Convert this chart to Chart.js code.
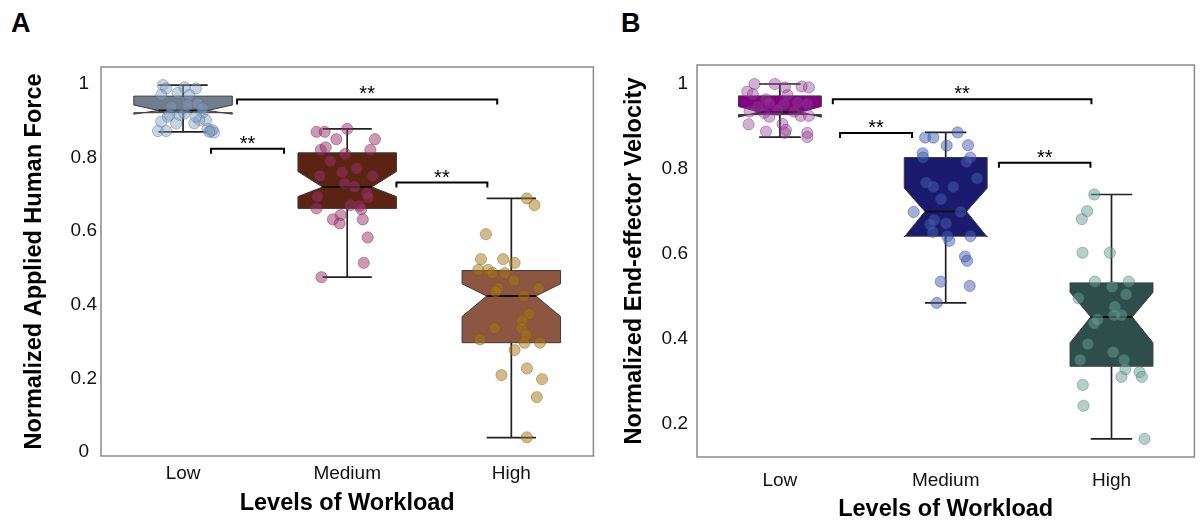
<!DOCTYPE html>
<html>
<head>
<meta charset="utf-8">
<script src="https://cdn.jsdelivr.net/npm/chart.js@4.4.0/dist/chart.umd.min.js"></script>
<style>
  body { margin: 0; background: #fff; width: 1201px; height: 524px; overflow: hidden; position: relative;
         font-family: "Liberation Sans", Arial, sans-serif; }
  .tag { position: absolute; top: 10px; font-weight: bold; font-size: 27px; line-height: 1; color: #000; }
  #chartA { position: absolute; left: 0; top: 0; }
  #chartB { position: absolute; left: 600px; top: 0; }
</style>
</head>
<body>
<div class="tag" style="left:11px">A</div>
<div class="tag" style="left:621px">B</div>
<canvas id="chartA" width="600" height="524"></canvas>
<canvas id="chartB" width="601" height="524"></canvas>
<script>
const levels = ['Low', 'Medium', 'High'];

// ---- panel A: normalized applied human force ----
const forceTicks = [0, 0.2, 0.4, 0.6, 0.8, 1];
const forceWhiskerLow  = [0.870, 0.475, 0.039];
const forceQ1          = [0.922, 0.662, 0.297];
const forceNotchLow    = [0.918, 0.694, 0.368];
const forceMedian      = [0.928, 0.720, 0.424];
const forceNotchHigh   = [0.943, 0.762, 0.457];
const forceQ3          = [0.967, 0.813, 0.493];
const forceWhiskerHigh = [0.997, 0.878, 0.689];

const forceLow = [0.997, 0.988, 0.976, 0.991, 0.988, 0.970, 0.970, 0.916, 0.916, 0.943, 0.947, 0.922, 0.902, 0.902, 0.893,
                  0.898, 0.872, 0.872, 0.893, 0.878, 0.872, 0.868, 0.875, 0.870, 0.911, 0.920, 0.911, 0.938, 0.934];
const forceLowJitter = [-0.123, -0.103, -0.032, 0.008, 0.078, 0.038, -0.133, -0.082, -0.022, 0.028, 0.089, 0.119, 0.139, 0.099, 0.068,
                        -0.133, -0.153, -0.103, -0.042, 0.149, 0.169, 0.189, 0.179, 0.159, -0.093, 0.008, 0.078, -0.072, 0.119];
const forceMed = [0.870, 0.870, 0.878, 0.850, 0.850, 0.821, 0.828, 0.810, 0.821, 0.791, 0.771, 0.760, 0.750, 0.750, 0.730,
                  0.721, 0.694, 0.703, 0.692, 0.662, 0.671, 0.669, 0.660, 0.644, 0.632, 0.621, 0.632, 0.583, 0.514, 0.475];
const forceMedJitter = [-0.187, -0.137, 0.000, -0.066, 0.169, -0.161, -0.131, -0.012, 0.141, -0.103, 0.058, -0.030, -0.167, 0.155, -0.016,
                        0.044, -0.181, 0.121, 0.129, -0.187, 0.020, 0.074, 0.085, -0.040, -0.087, -0.046, 0.095, 0.125, 0.101, -0.157];
const forceHigh = [0.689, 0.671, 0.592, 0.524, 0.524, 0.514, 0.495, 0.495, 0.486, 0.486, 0.466, 0.445, 0.436, 0.445, 0.424,
                   0.375, 0.357, 0.336, 0.336, 0.318, 0.297, 0.306, 0.297, 0.277, 0.227, 0.209, 0.198, 0.149, 0.040];
const forceHighJitter = [0.095, 0.141, -0.155, -0.185, -0.050, 0.020, -0.201, -0.141, -0.115, -0.040, 0.016, -0.080, -0.095, 0.167, 0.076,
                         0.107, 0.066, 0.062, -0.101, 0.091, 0.080, -0.191, 0.175, 0.020, 0.095, -0.060, 0.187, 0.155, 0.095];

// ---- panel B: normalized end-effector velocity ----
const velTicks = [0.2, 0.4, 0.6, 0.8, 1];
const velWhiskerLow  = [0.875, 0.485, 0.165];
const velQ1          = [0.928, 0.642, 0.336];
const velNotchLow    = [0.922, 0.640, 0.391];
const velMedian      = [0.934, 0.700, 0.452];
const velNotchHigh   = [0.947, 0.755, 0.510];
const velQ3          = [0.972, 0.827, 0.532];
const velWhiskerHigh = [1.000, 0.886, 0.740];

const velLow = [1.000, 1.000, 0.992, 0.994, 0.992, 0.982, 0.976, 0.964, 0.974, 0.947, 0.955, 0.953, 0.956, 0.953,
                0.935, 0.932, 0.923, 0.939, 0.935, 0.925, 0.925, 0.905, 0.906, 0.888, 0.885, 0.885, 0.875, 0.892];
const velLowJitter = [-0.153, -0.030, 0.030, 0.131, 0.175, -0.197, -0.163, -0.084, 0.046, -0.133, -0.064, 0.026, 0.106, 0.165,
                      -0.183, -0.094, -0.064, -0.014, 0.086, 0.125, 0.175, -0.189, 0.016, -0.084, 0.030, 0.165, 0.165, 0.036];
const velMed = [0.874, 0.874, 0.886, 0.855, 0.856, 0.837, 0.827, 0.827, 0.817, 0.778, 0.768, 0.758, 0.758, 0.729,
                0.699, 0.699, 0.680, 0.670, 0.672, 0.652, 0.642, 0.631, 0.642, 0.594, 0.584, 0.535, 0.525, 0.485];
const velMedJitter = [-0.124, -0.074, 0.072, 0.006, 0.135, -0.139, -0.137, 0.149, 0.125, 0.189, -0.118, -0.074, 0.046, -0.028,
                      -0.193, 0.090, -0.070, -0.094, 0.002, -0.078, 0.010, 0.022, 0.149, 0.116, 0.129, -0.030, 0.145, -0.054];
const velHigh = [0.740, 0.701, 0.682, 0.603, 0.603, 0.535, 0.535, 0.523, 0.496, 0.505, 0.476, 0.456, 0.456,
                 0.446, 0.437, 0.388, 0.369, 0.351, 0.351, 0.329, 0.311, 0.322, 0.311, 0.292, 0.243, 0.165];
const velHighJitter = [-0.104, -0.147, -0.179, -0.175, -0.010, -0.100, 0.104, 0.004, -0.199, 0.088, 0.020, 0.016, 0.060,
                       -0.084, -0.104, -0.143, 0.010, -0.189, 0.076, 0.084, 0.060, 0.169, 0.183, -0.173, -0.169, 0.199];

Chart.defaults.font.family = '"Liberation Sans", Arial, sans-serif';
Chart.defaults.color = '#111';

// notched box + whiskers, drawn under the jittered points
function boxPlugin(stats, fills, halfW) {
  return {
    id: 'notchedBoxes',
    beforeDatasetsDraw(chart) {
      const ctx = chart.ctx, xs = chart.scales.x, ys = chart.scales.y;
      ctx.save();
      for (let i = 0; i < stats.med.length; i++) {
        const c = i + 1;
        const px = v => xs.getPixelForValue(v);
        const py = k => ys.getPixelForValue(stats[k][i]);
        const L = px(c - halfW), R = px(c + halfW);
        const nL = px(c - halfW / 2), nR = px(c + halfW / 2);
        const X = px(c);
        ctx.strokeStyle = '#222';
        ctx.lineWidth = 1.7;
        ctx.beginPath();
        ctx.moveTo(X, py('q3')); ctx.lineTo(X, py('hi'));
        ctx.moveTo(nL, py('hi')); ctx.lineTo(nR, py('hi'));
        ctx.moveTo(X, py('q1')); ctx.lineTo(X, py('lo'));
        ctx.moveTo(nL, py('lo')); ctx.lineTo(nR, py('lo'));
        ctx.stroke();

        ctx.beginPath();
        ctx.moveTo(L, py('q3')); ctx.lineTo(L, py('nHi')); ctx.lineTo(nL, py('med'));
        ctx.lineTo(L, py('nLo')); ctx.lineTo(L, py('q1'));
        ctx.lineTo(R, py('q1')); ctx.lineTo(R, py('nLo')); ctx.lineTo(nR, py('med'));
        ctx.lineTo(R, py('nHi')); ctx.lineTo(R, py('q3'));
        ctx.closePath();
        ctx.fillStyle = fills[i];
        ctx.fill();
        ctx.strokeStyle = '#3a3a3a';
        ctx.lineWidth = 1;
        ctx.stroke();

        ctx.beginPath();
        ctx.moveTo(nL, py('med')); ctx.lineTo(nR, py('med'));
        ctx.strokeStyle = '#111';
        ctx.lineWidth = 2;
        ctx.stroke();
      }
      ctx.restore();
    },
    afterDatasetsDraw(chart) {
      const ctx = chart.ctx, xs = chart.scales.x, ys = chart.scales.y;
      ctx.save();
      ctx.strokeStyle = '#000';
      ctx.lineWidth = 2;
      ctx.fillStyle = '#000';
      ctx.font = '20px "Liberation Sans", Arial, sans-serif';
      ctx.textAlign = 'center';
      ctx.textBaseline = 'alphabetic';
      stats.brackets.forEach(b => {
        const x1 = xs.getPixelForValue(b.x1), x2 = xs.getPixelForValue(b.x2), y = ys.getPixelForValue(b.y);
        ctx.beginPath();
        ctx.moveTo(x1, y + 5); ctx.lineTo(x1, y); ctx.lineTo(x2, y); ctx.lineTo(x2, y + 5);
        ctx.stroke();
        ctx.fillText('**', (x1 + x2) / 2, y + 1);
      });
      // frame
      const a = chart.chartArea;
      ctx.strokeStyle = '#8a8a8a';
      ctx.lineWidth = 1.5;
      ctx.strokeRect(a.left, a.top, a.right - a.left, a.bottom - a.top);
      ctx.restore();
    }
  };
}

function pts(vals, jit, group) {
  return vals.map((v, k) => ({ x: group + jit[k], y: v }));
}

function makeChart(id, cfg) {
  return new Chart(document.getElementById(id), {
    type: 'scatter',
    data: {
      datasets: cfg.groups.map((g, i) => ({
        label: levels[i],
        data: pts(g.vals, g.jit, i + 1),
        backgroundColor: g.fill,
        borderColor: g.edge,
        borderWidth: 1,
        pointRadius: 5.6
      }))
    },
    options: {
      responsive: false,
      animation: false,
      events: [],
      layout: { padding: { top: cfg.top, right: 2, left: 0, bottom: 0 } },
      plugins: { legend: { display: false }, tooltip: { enabled: false } },
      scales: {
        x: {
          type: 'linear', min: 0.5, max: 3.5,
          grid: { display: false, drawTicks: false },
          border: { display: false },
          afterBuildTicks: ax => { ax.ticks = levels.map((_, i) => ({ value: i + 1 })); },
          ticks: { callback: v => levels[Math.round(v) - 1], font: { size: 19 }, color: '#111', padding: cfg.xPad, maxRotation: 0, autoSkip: false },
          title: { display: true, text: 'Levels of Workload', font: { size: 23.5, weight: 'bold' }, color: '#000',
                   padding: { top: 0, bottom: cfg.xTitlePad } },
          afterFit: ax => { ax.height = cfg.xHeight; }
        },
        y: {
          min: cfg.yMin, max: cfg.yMax,
          grid: { display: false, drawTicks: false },
          border: { display: false },
          afterBuildTicks: ax => { ax.ticks = cfg.ticks.map(v => ({ value: v })); },
          ticks: { callback: v => String(v), font: { size: 19 }, color: '#111', padding: cfg.yPad, crossAlign: cfg.yAlign },
          title: { display: true, text: cfg.yTitle, font: { size: 23.5, weight: 'bold' }, color: '#000',
                   padding: { top: 20, bottom: 0 } },
          afterFit: ax => { ax.width = cfg.yWidth; }
        }
      }
    },
    plugins: [boxPlugin(cfg.stats, cfg.boxFills, cfg.halfW)]
  });
}

makeChart('chartA', {
  top: 67, xHeight: 68, yWidth: 101, yMin: -0.0109, yMax: 1.0462, ticks: forceTicks,
  xPad: 6, xTitlePad: 6, yPad: 4, yAlign: 'center', halfW: 0.3,
  yTitle: 'Normalized Applied Human Force',
  boxFills: ['#717d8d', '#5b2412', '#8c5641'],
  stats: {
    lo: forceWhiskerLow, q1: forceQ1, nLo: forceNotchLow, med: forceMedian, nHi: forceNotchHigh, q3: forceQ3, hi: forceWhiskerHigh,
    brackets: [
      { x1: 1.329, x2: 2.914, y: 0.958 },
      { x1: 1.170, x2: 1.615, y: 0.824 },
      { x1: 2.300, x2: 2.854, y: 0.732 }
    ]
  },
  groups: [
    { vals: forceLow, jit: forceLowJitter, fill: 'rgba(130,160,195,0.45)', edge: 'rgba(80,100,130,0.4)' },
    { vals: forceMed, jit: forceMedJitter, fill: 'rgba(155,50,105,0.5)', edge: 'rgba(110,30,70,0.4)' },
    { vals: forceHigh, jit: forceHighJitter, fill: 'rgba(168,120,20,0.5)', edge: 'rgba(120,85,20,0.4)' }
  ]
});

makeChart('chartB', {
  top: 65, xHeight: 67, yWidth: 97, yMin: 0.1224, yMax: 1.0447, ticks: velTicks,
  xPad: 12, xTitlePad: 0, yPad: 9, yAlign: 'near', halfW: 0.25,
  yTitle: 'Normalized End-effector Velocity',
  boxFills: ['#850085', '#1a1a6e', '#2e4e4b'],
  stats: {
    lo: velWhiskerLow, q1: velQ1, nLo: velNotchLow, med: velMedian, nHi: velNotchHigh, q3: velQ3, hi: velWhiskerHigh,
    brackets: [
      { x1: 1.319, x2: 2.879, y: 0.964 },
      { x1: 1.363, x2: 1.797, y: 0.885 },
      { x1: 2.321, x2: 2.873, y: 0.815 }
    ]
  },
  groups: [
    { vals: velLow, jit: velLowJitter, fill: 'rgba(150,65,150,0.42)', edge: 'rgba(110,40,110,0.4)' },
    { vals: velMed, jit: velMedJitter, fill: 'rgba(70,95,180,0.5)', edge: 'rgba(40,60,130,0.4)' },
    { vals: velHigh, jit: velHighJitter, fill: 'rgba(105,160,152,0.5)', edge: 'rgba(60,110,105,0.4)' }
  ]
});
</script>
</body>
</html>
